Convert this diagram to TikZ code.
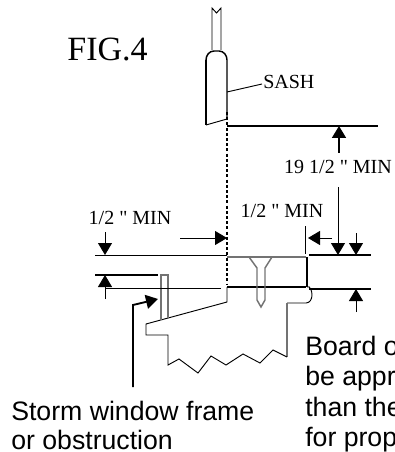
\documentclass[tikz,border=0pt]{standalone}
\usepackage{fontspec}
\newfontfamily\serifplain{Liberation Serif}
\newfontfamily\sansplain{Liberation Sans}
\usetikzlibrary{arrows.meta}
\tikzset{
  thinline/.style={line width=0.7pt},
  midline/.style={line width=1.1pt},
  thickline/.style={line width=1.5pt},
  grayline/.style={line width=1.1pt, color=black!55},
  dimarrow/.style={-{Triangle[length=9pt,width=10.5pt]}, line width=0.7pt},
  dimlabel/.style={inner sep=0pt, anchor=base, font=\serifplain\fontsize{15}{17}\selectfont},
  notelabel/.style={inner sep=0pt, anchor=base west, font=\sansplain\fontsize{20}{22}\selectfont}
}
\begin{document}
\begin{tikzpicture}[x=0.75pt, y=-0.75pt]
\useasboundingbox (0,0) rectangle (395,452);
\clip (0,0) rectangle (395,452);
% labels
\node[inner sep=0pt, anchor=base, font=\serifplain\fontsize{25.5}{27}\selectfont] (fig) at (107.5,61) {FIG.4};
\node[inner sep=0pt, anchor=base west, font=\serifplain\fontsize{15}{17}\selectfont] (sash) at (263,89) {SASH};
\node[dimlabel] (left) at (130,224) {1/2 " MIN};
\node[dimlabel] (mid) at (282,217) {1/2 " MIN};
\node[dimlabel] (high) at (338,173) {19 1/2 " MIN};
\node[notelabel] (storm) at (11,420) {Storm window frame};
\node[notelabel] (obst) at (11,449) {or obstruction};
\node[notelabel] (boardA) at (305,355) {Board o};
\node[notelabel] (boardB) at (305,385) {be appr};
\node[notelabel] (boardC) at (305,416) {than the};
\node[notelabel] (boardD) at (305,446) {for prop};
% sash
\draw[thinline] (212,50) -- (212,8) -- (216.5,13) -- (221,8) -- (221,50);
\draw[thickline] (206,125) -- (206,60);
\draw[midline] (206,60) to[out=90,in=180] (214,51) -- (219,51) to[out=0,in=90] (227,60) -- (227,119);
\draw[thinline] (206,125) -- (227,119);
\coordinate (sashpt) at (227,92);
\draw[thinline] (sashpt) -- (262,84);
% sill
\draw[line width=1.5pt, dash pattern=on 2.2pt off 1.7pt] (227,112) -- (227,285);
\draw[thickline] (227,126) -- (378,126);
\draw[grayline] (227,257) -- (306,257);
\draw[thickline] (227,287) -- (306,287);
\draw[thickline] (307,257) -- (307,287);
\draw[thinline] (307,287) to[out=30,in=90] (312,295) to[out=-90,in=0] (306,303) -- (287,303);
\draw[grayline] (287,303) -- (287,357);
\draw[thinline] (227,287) -- (227,302) -- (146,324) -- (146,335) -- (168,335) -- (168,365) -- (179,359) -- (198,373) -- (211,356) -- (226,365) -- (243,354) -- (260,363) -- (273,350) -- (287,357);
\draw[grayline] (161,320) -- (161,275) -- (168,275) -- (168,318);
% screw
\draw[grayline] (249,257) -- (257,268) -- (257,300) -- (261,307) -- (265,300) -- (265,268) -- (272,257);
% dimensions
\draw[thinline] (95,255) -- (227,255);
\draw[thickline] (95,275) -- (158,275);
\draw[thinline] (105,288) -- (221,288);
\draw[thickline] (309,255) -- (371,255);
\draw[thickline] (309,289) -- (371,289);
\draw[thinline] (305,226) -- (305,254);
\draw[dimarrow] (105,232) -- (105,255);
\draw[dimarrow] (105,299) -- (105,275);
\draw[dimarrow] (180,238) -- (227,238);
\draw[dimarrow] (332,238) -- (308,238);
\draw[dimarrow, line width=1.3pt] (339,153) -- (339,126);
\draw[dimarrow] (338,187) -- (338,255);
\draw[dimarrow] (356,233) -- (356,255);
\draw[dimarrow] (356,312) -- (356,289);
\draw[dimarrow, line width=1.4pt] (133,387) -- (133,305) -- (158,299);
\end{tikzpicture}
\end{document}
